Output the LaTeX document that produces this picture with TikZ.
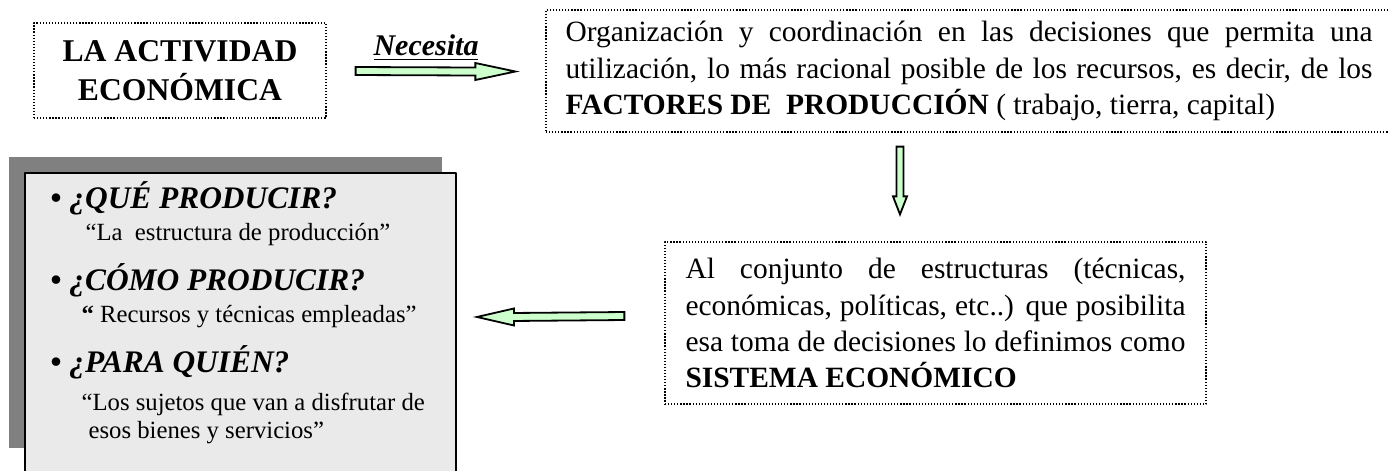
\documentclass[tikz,border=0pt]{standalone}
\usepackage{fontspec}
\setmainfont{Liberation Serif}[BoldFont={Liberation Serif Bold},ItalicFont={Liberation Serif Italic},BoldItalicFont={Liberation Serif Bold Italic}]
\usetikzlibrary{positioning,calc}
\definecolor{verdeflecha}{RGB}{204,255,204}
\definecolor{grissombra}{RGB}{128,128,128}
\definecolor{grisfondo}{RGB}{234,234,234}
\def\pxu{0.36pt}
\tikzset{
  caja/.style={draw, line width=0.45pt, dash pattern=on 0.45pt off 0.65pt, inner sep=0pt},
  flechaverde/.style={draw=black, line width=0.65pt, fill=verdeflecha, line join=miter},
  titulo/.style={font=\fontsize{11.4}{13.9}\selectfont\bfseries, align=center},
  parrafo/.style={font=\fontsize{10.6}{13}\selectfont, align=justify},
  pregunta/.style={font=\fontsize{11.3}{13}\selectfont\bfseries, anchor=base west, inner sep=0pt},
  respuesta/.style={font=\fontsize{8.9}{10.1}\selectfont, anchor=base west, inner sep=0pt}
}
\begin{document}
\begin{tikzpicture}[x=0.36pt,y=-0.36pt,line join=round]
	\useasboundingbox (0,0) rectangle (1388,470);
	\node[caja,titulo,minimum width=292*\pxu,minimum height=95*\pxu] (actividad) at (180,70.5) {LA ACTIVIDAD\\ECONÓMICA};
	\node[caja,parrafo,text width=807*\pxu,minimum width=846*\pxu,minimum height=122*\pxu] (organizacion) at (969,71)
		{Organización y coordinación en las decisiones que permita una\linebreak
		utilización, lo más racional posible de los recursos, es decir, de los\linebreak
		\textbf{FACTORES DE\ \ PRODUCCIÓN} ( trabajo, tierra, capital)};
	\node[caja,parrafo,text width=500*\pxu,minimum width=541*\pxu,minimum height=162*\pxu] (sistema) at (935.5,323)
		{Al conjunto de estructuras (técnicas,\linebreak
		económicas, políticas, etc..) que posibilita\linebreak
		esa toma de decisiones lo definimos como\linebreak
		\textbf{SISTEMA ECONÓMICO}};
	\node[fill=grissombra,inner sep=0pt,anchor=north west,minimum width=433*\pxu,minimum height=291*\pxu] (sombra) at (8,156) {};
	\node[draw,line width=0.7pt,fill=grisfondo,inner sep=0pt,anchor=north west,minimum width=431*\pxu,minimum height=320*\pxu] (preguntas) at (24,172) {};
	\foreach \n/\y/\t in {1/208/{¿QUÉ PRODUCIR?},2/290/{¿CÓMO PRODUCIR?},3/372/{¿PARA QUIÉN?}}
	{
		\node[pregunta] (q\n) at (50,\y) {\textbullet\ \textit{\t}};
	}
	\node[respuesta] (r1) at (85,240) {“La\ \ estructura de producción”};
	\node[respuesta] (r2) at (81,322) {\textbf{“} Recursos y técnicas empleadas”};
	\node[respuesta] (r3) at (81,410) {“Los sujetos que van a disfrutar de};
	\node[respuesta] (r4) at (88,438) {esos bienes y servicios”};
	\coordinate (nec-ini) at ($(actividad.east)+(29,0.5)$);
	\coordinate (nec-fin) at ($(organizacion.west)+(-30,0.5)$);
	\draw[flechaverde] ($(nec-ini)+(0,-4)$) -- ($(nec-fin)+(-40,-4)$) -- ($(nec-fin)+(-40,-8.5)$) -- (nec-fin)
		-- ($(nec-fin)+(-40,8.5)$) -- ($(nec-fin)+(-40,4)$) -- ($(nec-ini)+(0,4)$) -- cycle;
	\node[font=\fontsize{10.8}{13}\selectfont\bfseries\itshape,anchor=base] (necesita) at (426,55) {\underline{Necesita}};
	\coordinate (baja-ini) at ($(organizacion.south)+(-69,14)$);
	\coordinate (baja-fin) at ($(sistema.north)+(-35.5,-27)$);
	\draw[flechaverde] ($(baja-ini)+(-3.5,0)$) -- ($(baja-fin)+(-3.5,-18)$) -- ($(baja-fin)+(-7,-18)$) -- (baja-fin)
		-- ($(baja-fin)+(7,-18)$) -- ($(baja-fin)+(3.5,-18)$) -- ($(baja-ini)+(3.5,0)$) -- cycle;
	\coordinate (vuelta-ini) at ($(sistema.west)+(-40,-7)$);
	\coordinate (vuelta-fin) at ($(preguntas.east)+(20,-16)$);
	\draw[flechaverde] ($(vuelta-ini)+(0,-4)$) -- ($(vuelta-fin)+(37,-4)$) -- ($(vuelta-fin)+(37,-8.5)$) -- (vuelta-fin)
		-- ($(vuelta-fin)+(37,8.5)$) -- ($(vuelta-fin)+(37,4)$) -- ($(vuelta-ini)+(0,4)$) -- cycle;
\end{tikzpicture}
\end{document}
